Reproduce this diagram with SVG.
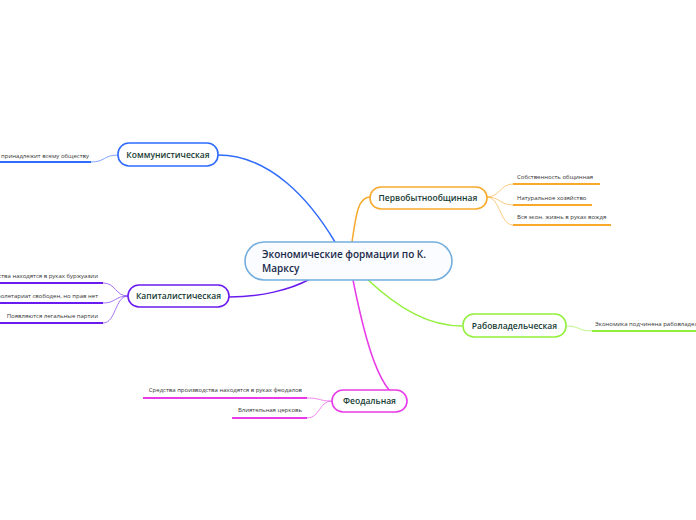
<svg xmlns="http://www.w3.org/2000/svg" width="696" height="520" viewBox="0 0 696 520">
<style>
.bg{fill:#ffffff}
.node rect{fill:#ffffff;stroke-width:1.6}
.nt{font-family:"Open Sans","Noto Sans",sans-serif;font-weight:600;font-size:8.5px;fill:#173c34;text-anchor:middle}
.ct{font-family:"Open Sans","Noto Sans",sans-serif;font-weight:600;font-size:10px;fill:#1b2a4a}
.lt{font-family:"Open Sans","Noto Sans",sans-serif;font-size:6px;fill:#333333}
.c{fill:none;stroke-width:1.5}
.lc{fill:none;stroke-width:1;opacity:0.6}
.u{stroke-width:2}
</style>
<rect class="bg" x="0" y="0" width="696" height="520"/>
<g id="connectors">
<path class="c" stroke="#2f6bff" d="M218,155 C270,155 310,200 335,242"/>
<path class="c" stroke="#f8a92b" d="M352,242 C356,215 358,197 370,197"/>
<path class="c" stroke="#6a1bf0" d="M310,279 C290,290 260,297 229,297"/>
<path class="c" stroke="#92f03c" d="M367,279 C400,310 430,326 462,326"/>
<path class="c" stroke="#e83ae8" d="M353,280 C365,340 380,398 406,401"/>
<path class="lc" stroke="#2f6bff" d="M91,162 C105,162 104,155 118,155"/>
<path class="lc" stroke="#f8a92b" d="M487,197 C500,197 500,184 513,184"/>
<path class="lc" stroke="#f8a92b" d="M487,197 C500,197 500,205 513,205"/>
<path class="lc" stroke="#f8a92b" d="M487,197 C500,197 500,225 513,225"/>
<path class="lc" stroke="#6a1bf0" d="M103,283 C116,283 115,296 128,296"/>
<path class="lc" stroke="#6a1bf0" d="M103,303 C116,303 115,296 128,296"/>
<path class="lc" stroke="#6a1bf0" d="M103,323 C116,323 115,296 128,296"/>
<path class="lc" stroke="#92f03c" d="M566,326 C580,326 578,331 592,331"/>
<path class="lc" stroke="#e83ae8" d="M307,398 C320,398 319,401 332,401"/>
<path class="lc" stroke="#e83ae8" d="M307,418 C320,418 319,401 332,401"/>
</g>
<g id="center" class="node">
<rect x="245" y="242" width="207" height="38" rx="19" fill="#fafcff" stroke="#73aede" style="fill:#fafcff"/>
<text class="ct" x="262" y="258">Экономические формации по К.</text>
<text class="ct" x="262" y="272">Марксу</text>
</g>
<g id="kommun" class="node">
<rect x="118" y="143" width="100" height="23" rx="11" stroke="#2f6bff"/>
<text class="nt" x="168" y="158">Коммунистическая</text>
</g>
<g id="kommun-leaf">
<text class="lt" x="89" y="158" text-anchor="end">Собственность принадлежит всему обществу</text>
<line class="u" x1="0" y1="162" x2="91" y2="162" stroke="#2f6bff"/>
</g>
<g id="pervob" class="node">
<rect x="370" y="187" width="117" height="22" rx="11" stroke="#f8a92b"/>
<text class="nt" x="428" y="201">Первобытнообщинная</text>
</g>
<g id="pervob-leaves">
<text class="lt" x="517" y="179">Собственность общинная</text>
<line class="u" x1="513" y1="184" x2="600" y2="184" stroke="#f8a92b"/>
<text class="lt" x="517" y="200">Натуральное хозяйство</text>
<line class="u" x1="513" y1="205" x2="592" y2="205" stroke="#f8a92b"/>
<text class="lt" x="517" y="219">Вся экон. жизнь в руках вождя</text>
<line class="u" x1="513" y1="225" x2="611" y2="225" stroke="#f8a92b"/>
</g>
<g id="kapital" class="node">
<rect x="128" y="285" width="101" height="22" rx="11" stroke="#6a1bf0"/>
<text class="nt" x="178.5" y="299">Капиталистическая</text>
</g>
<g id="kapital-leaves">
<text class="lt" x="98" y="278" text-anchor="end">Средства производства находятся в руках буржуазии</text>
<line class="u" x1="0" y1="283" x2="103" y2="283" stroke="#6a1bf0"/>
<text class="lt" x="98" y="298" text-anchor="end">Пролетариат свободен, но прав нет</text>
<line class="u" x1="0" y1="303" x2="103" y2="303" stroke="#6a1bf0"/>
<text class="lt" x="98" y="318" text-anchor="end">Появляются легальные партии</text>
<line class="u" x1="0" y1="323" x2="103" y2="323" stroke="#6a1bf0"/>
</g>
<g id="rabovlad" class="node">
<rect x="463" y="314" width="103" height="23" rx="11" stroke="#92f03c"/>
<text class="nt" x="514.5" y="329">Рабовладельческая</text>
</g>
<g id="rabovlad-leaf">
<text class="lt" x="595" y="326">Экономика подчинена рабовладельцам</text>
<line class="u" x1="592" y1="331" x2="696" y2="331" stroke="#92f03c"/>
</g>
<g id="feodal" class="node">
<rect x="332" y="390" width="75" height="22" rx="11" stroke="#e83ae8"/>
<text class="nt" x="369.5" y="404">Феодальная</text>
</g>
<g id="feodal-leaves">
<text class="lt" x="302" y="392" text-anchor="end">Средства производства находятся в руках феодалов</text>
<line class="u" x1="143" y1="398" x2="307" y2="398" stroke="#e83ae8"/>
<text class="lt" x="302" y="412" text-anchor="end">Влиятельная церковь</text>
<line class="u" x1="232" y1="418" x2="307" y2="418" stroke="#e83ae8"/>
</g>
</svg>
